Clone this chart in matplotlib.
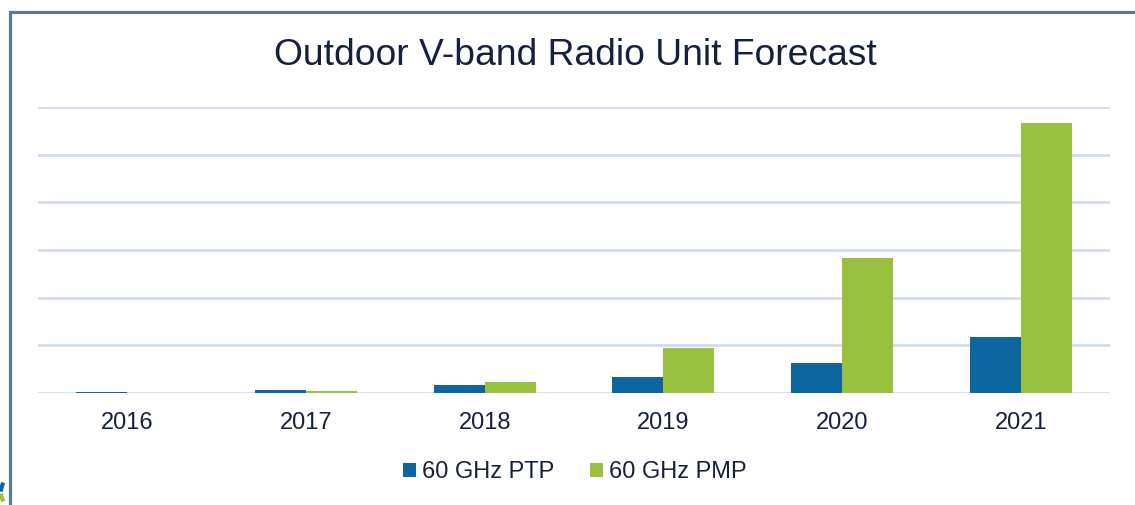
import matplotlib
matplotlib.use("Agg")
import matplotlib.pyplot as plt
from matplotlib.patches import Patch, Rectangle, Arc
import numpy as np

years = ["2016", "2017", "2018", "2019", "2020", "2021"]
ptp = [0.015, 0.057, 0.17, 0.34, 0.63, 1.17]
pmp = [0.0, 0.035, 0.23, 0.94, 2.83, 5.66]
series_names = ["60 GHz PTP", "60 GHz PMP"]
title = "Outdoor V-band Radio Unit Forecast"

C_PTP = "#0e66a0"
C_PMP = "#99c13f"
C_TEXT = "#14213d"
C_GRID = "#cfdcef"
C_FRAME = "#5f7a8c"

plt.rcParams['font.family'] = ['Liberation Sans', 'DejaVu Sans']

W, H = 1135, 505
fig = plt.figure(figsize=(W / 100, H / 100), dpi=100)
fig.patch.set_facecolor("white")

def fx(px):
    return px / W

def fy(py):
    return 1 - py / H

ax = fig.add_axes([fx(38), fy(393), fx(1110) - fx(38), fy(107) - fy(393)])
x = np.arange(len(years))
bw = 0.286
ax.bar(x - bw / 2, ptp, width=bw, color=C_PTP, label=series_names[0], zorder=3)
ax.bar(x + bw / 2, pmp, width=bw, color=C_PMP, label=series_names[1], zorder=3)
ax.set_xlim(-0.5, len(years) - 0.5)
ax.set_ylim(0, 6)
ax.set_yticks(np.arange(0, 7, 1))
ax.yaxis.grid(True, color=C_GRID, linewidth=2.0, zorder=0)
ax.set_axisbelow(True)
ax.tick_params(axis='y', left=False, labelleft=False)
ax.set_xticks(x)
ax.set_xticklabels(years, fontsize=17, color=C_TEXT)
ax.tick_params(axis='x', bottom=False, pad=10.5)
for s in ax.spines.values():
    s.set_visible(False)
ax.set_facecolor("none")

fig.text(fx(575), fy(65), title, fontsize=26.8, color=C_TEXT, ha='center', va='baseline')

handles = [Patch(facecolor=C_PTP, edgecolor='none'), Patch(facecolor=C_PMP, edgecolor='none')]
fig.legend(handles, series_names, loc='center', bbox_to_anchor=(fx(575), fy(472)), ncol=2,
           frameon=False, fontsize=17, labelcolor=C_TEXT, handlelength=0.55, handleheight=0.55,
           handletextpad=0.25, columnspacing=1.5)

# partial logo arcs in the bottom-left corner
fig.add_artist(Arc((fx(20), fy(492)), fx(38), fy(0) - fy(38), theta1=128, theta2=178,
                   transform=fig.transFigure, color=C_PTP, linewidth=3))
fig.add_artist(Arc((fx(20), fy(492)), fx(38), fy(0) - fy(38), theta1=190, theta2=232,
                   transform=fig.transFigure, color=C_PMP, linewidth=3))

# frame
fig.add_artist(Rectangle((fx(9.5), fy(600)), fx(1300), fy(11.5) - fy(600), transform=fig.transFigure,
                         fill=False, edgecolor=C_FRAME, linewidth=2.3))

fig.savefig("out.png", dpi=100, facecolor="white")
